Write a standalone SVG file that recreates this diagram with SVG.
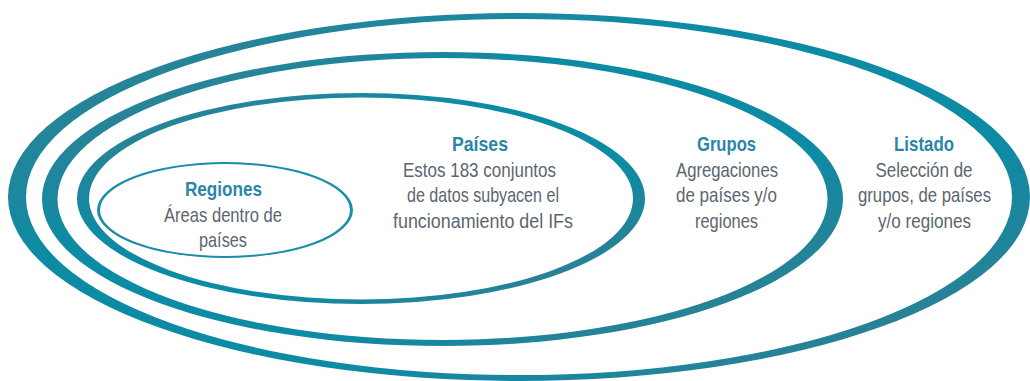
<svg xmlns="http://www.w3.org/2000/svg" width="1030" height="381" viewBox="0 0 1030 381">
<style>
.t{font-family:"Liberation Sans Narrow","Liberation Sans",Roboto,sans-serif;font-size:21px;text-anchor:middle}
.h{font-weight:bold;fill:#2a86a6}
.b{fill:#5b6670}
</style>
<defs>
<linearGradient id="g" x1="0" y1="0" x2="1" y2="1">
<stop offset="0" stop-color="#3b7e8e"/>
<stop offset="0.35" stop-color="#0d8ba5"/>
<stop offset="0.65" stop-color="#0d8ba5"/>
<stop offset="1" stop-color="#3b7b8b"/>
</linearGradient>
</defs>
<rect width="1030" height="381" fill="#ffffff"/>
<g id="listado">
<path fill="url(#g)" fill-rule="evenodd" d="M8,197 a511,184 0 1,0 1022,0 a511,184 0 1,0 -1022,0 Z M26,197 a493,178 0 1,0 986,0 a493,178 0 1,0 -986,0 Z"/>
<text class="t h" x="924" y="151" textLength="60" lengthAdjust="spacingAndGlyphs">Listado</text>
<text class="t b" x="924" y="177" textLength="97" lengthAdjust="spacingAndGlyphs">Selección de</text>
<text class="t b" x="924.5" y="202" textLength="133" lengthAdjust="spacingAndGlyphs">grupos, de países</text>
<text class="t b" x="924.5" y="228" textLength="93" lengthAdjust="spacingAndGlyphs">y/o regiones</text>
</g>
<g id="grupos">
<path fill="url(#g)" fill-rule="evenodd" d="M42,199 a400.5,147 0 1,0 801,0 a400.5,147 0 1,0 -801,0 Z M57.5,199 a385,141 0 1,0 770,0 a385,141 0 1,0 -770,0 Z"/>
<text class="t h" x="726.5" y="151" textLength="59" lengthAdjust="spacingAndGlyphs">Grupos</text>
<text class="t b" x="727" y="177" textLength="102" lengthAdjust="spacingAndGlyphs">Agregaciones</text>
<text class="t b" x="726.5" y="202" textLength="101" lengthAdjust="spacingAndGlyphs">de países y/o</text>
<text class="t b" x="726.5" y="228" textLength="63" lengthAdjust="spacingAndGlyphs">regiones</text>
</g>
<g id="paises">
<path fill="url(#g)" fill-rule="evenodd" d="M77,198.5 a284,105.5 0 1,0 568,0 a284,105.5 0 1,0 -568,0 Z M89,198.5 a272,101 0 1,0 544,0 a272,101 0 1,0 -544,0 Z"/>
<text class="t h" x="480" y="151" textLength="56" lengthAdjust="spacingAndGlyphs">Países</text>
<text class="t b" x="479.5" y="177" textLength="153" lengthAdjust="spacingAndGlyphs">Estos 183 conjuntos</text>
<text class="t b" x="483" y="202" textLength="152" lengthAdjust="spacingAndGlyphs">de datos subyacen el</text>
<text class="t b" x="483" y="228" textLength="180" lengthAdjust="spacingAndGlyphs">funcionamiento del IFs</text>
</g>
<g id="regiones">
<path fill="#1a8ea8" fill-rule="evenodd" d="M97,210 a128,48 0 1,0 256,0 a128,48 0 1,0 -256,0 Z M100,210 a125,46 0 1,0 250,0 a125,46 0 1,0 -250,0 Z"/>
<text class="t h" x="223.5" y="196" textLength="77" lengthAdjust="spacingAndGlyphs">Regiones</text>
<text class="t b" x="223" y="222" textLength="118" lengthAdjust="spacingAndGlyphs">Áreas dentro de</text>
<text class="t b" x="223" y="247" textLength="48" lengthAdjust="spacingAndGlyphs">países</text>
</g>
<g id="connectors"/>
</svg>
